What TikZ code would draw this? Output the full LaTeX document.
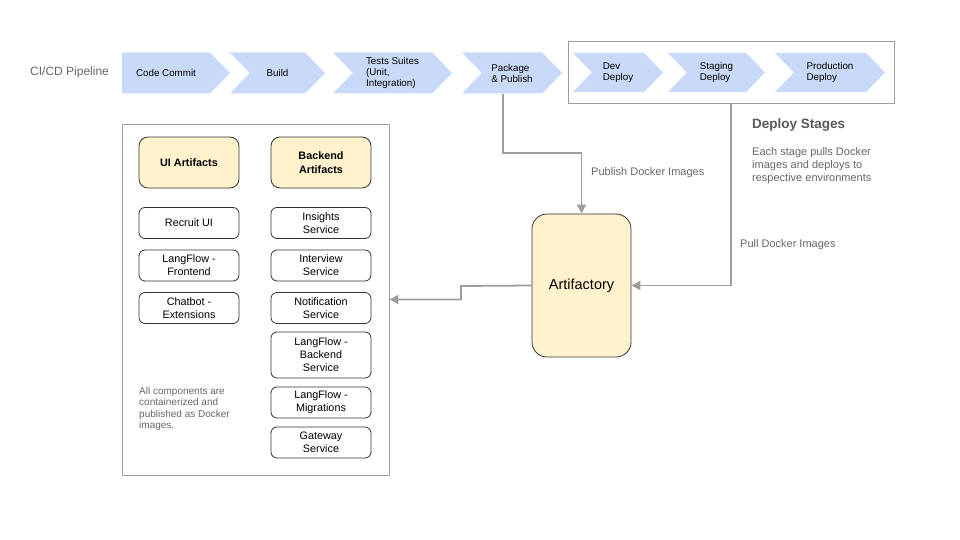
\documentclass[tikz,border=0pt]{standalone}
\usepackage{fontspec}
\setmainfont{Liberation Sans}
\usetikzlibrary{shapes.symbols,arrows.meta}

\definecolor{chevblue}{HTML}{C9DAF8}
\definecolor{artyellow}{HTML}{FFF2CC}
\definecolor{framegray}{HTML}{9E9E9E}
\definecolor{labelgray}{HTML}{666666}
\definecolor{linegray}{HTML}{9E9E9E}

\tikzset{
    stage/.style={signal, signal to=east, signal from=west, signal pointer angle=92,
        fill=chevblue, minimum height=41pt, inner sep=0pt, align=left,
        font=\fontsize{9.8}{11}\selectfont},
    artbox/.style={draw=black!80, line width=0.8pt, rounded corners=6pt, fill=white,
        minimum width=100pt, minimum height=31pt, inner sep=0pt, align=center,
        font=\fontsize{10.8}{13}\selectfont},
    headbox/.style={artbox, fill=artyellow, rounded corners=9pt, minimum height=51pt,
        font=\fontsize{10.8}{13.5}\selectfont\bfseries},
    frame/.style={draw=framegray, line width=0.8pt},
    flow/.style={draw=linegray, line width=1.8pt, -{Triangle[width=9pt,length=9pt]}},
    note/.style={text=labelgray, align=left, anchor=west, inner sep=0pt}
}

\begin{document}
\begin{tikzpicture}[x=1pt,y=-1pt]
    \useasboundingbox (0,0) rectangle (960,540);

    % pipeline
    \node[note, font=\fontsize{12}{14}\selectfont] (cicd) at (30,72) {CI/CD Pipeline};
    \node[stage, signal from=nowhere, minimum width=108pt] (commit) at (166,73) {Code Commit};
    \node[stage, minimum width=95pt] (build) at (277.5,73) {Build};
    \node[stage, minimum width=119pt] (tests) at (392.5,73) {Tests Suites\\(Unit,\\Integration)};
    \node[stage, minimum width=100pt] (pkg) at (512,73) {Package\\\& Publish};

    % deploy stages
    \node[frame, minimum width=326pt, minimum height=62pt, inner sep=0pt] (deploys) at (731,72) {};
    \node[stage, minimum height=39pt, minimum width=90pt] (dev) at (618,72.5) {Dev\\Deploy};
    \node[stage, minimum height=39pt, minimum width=97pt] (staging) at (716.5,72.5) {Staging\\Deploy};
    \node[stage, minimum height=39pt, minimum width=110pt] (prod) at (830,72.5) {Production\\Deploy};

    \node[note, text=black!65, font=\fontsize{13.5}{15}\selectfont\bfseries] (dstitle) at (752,125) {Deploy Stages};
    \node[note, font=\fontsize{11}{13}\selectfont] (dstext) at (752,166) {Each stage pulls Docker\\images and deploys to\\respective environments};

    % artifacts
    \node[frame, minimum width=267pt, minimum height=351pt, inner sep=0pt] (artifacts) at (255.5,299.5) {};
    \node[headbox] (uihead) at (189,162.5) {UI Artifacts};
    \node[headbox] (behead) at (321,162.5) {Backend\\Artifacts};

    \node[artbox] (recruit) at (189,223) {Recruit UI};
    \node[artbox] (lffront) at (189,265.5) {LangFlow -\\Frontend};
    \node[artbox] (chatbot) at (189,308) {Chatbot -\\Extensions};

    \node[artbox] (insights) at (321,223) {Insights\\Service};
    \node[artbox] (interview) at (321,265.5) {Interview\\Service};
    \node[artbox] (notify) at (321,308) {Notification\\Service};
    \node[artbox, minimum height=46pt] (lfback) at (321,355) {LangFlow -\\Backend\\Service};
    \node[artbox] (lfmig) at (321,402.5) {LangFlow -\\Migrations};
    \node[artbox] (gateway) at (321,442.5) {Gateway\\Service};

    \node[note, font=\fontsize{10}{11.5}\selectfont] (allnote) at (139,409) {All components are\\containerized and\\published as Docker\\images.};

    % artifactory
    \node[draw=black!80, line width=0.8pt, fill=artyellow, rounded corners=15pt,
        minimum width=99pt, minimum height=143pt, font=\fontsize{14.5}{16}\selectfont] (artifactory) at (581.5,285.5) {Artifactory};

    % flows
    \coordinate (pubbend) at (503,153);
    \coordinate (outbend) at (461,286);
    \draw[flow] (pkg.south -| pubbend) -- (pubbend) -| (artifactory.north);
    \draw[flow] (deploys.south) |- (artifactory.east);
    \draw[flow] (artifactory.west) -- (outbend) |- (artifacts.east);

    \node[note, font=\fontsize{11}{13}\selectfont] (publbl) at (591,173) {Publish Docker Images};
    \node[note, font=\fontsize{11}{13}\selectfont] (pulllbl) at (740,245) {Pull Docker Images};
\end{tikzpicture}
\end{document}
